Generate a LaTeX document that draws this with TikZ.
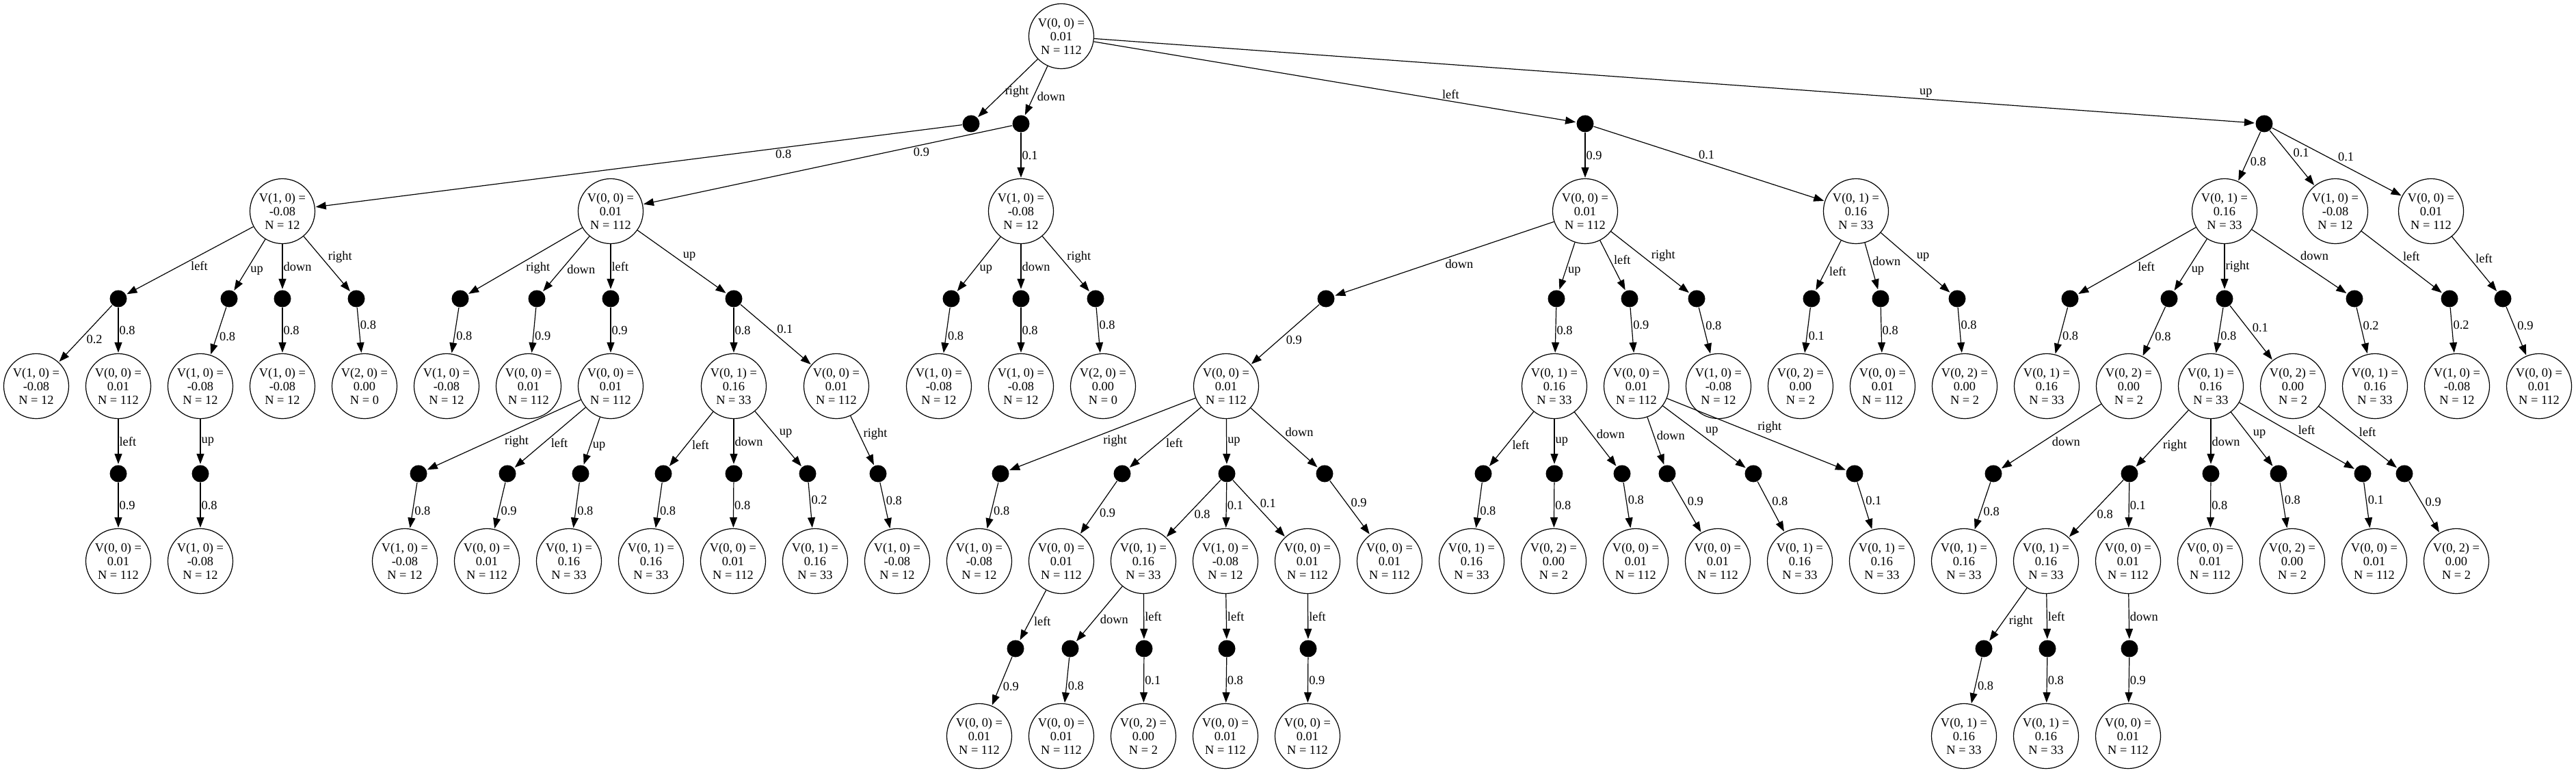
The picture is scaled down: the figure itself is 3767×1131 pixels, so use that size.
\documentclass[tikz,border=0pt]{standalone}
\usepackage{fontspec}
\setmainfont{Liberation Serif}
\usetikzlibrary{arrows.meta}

\begin{document}
\begin{tikzpicture}[x=1pt, y=-1pt, >={Triangle[length=15pt, width=11pt]}, shorten >=1pt, auto, line width=1.2pt,
    font=\fontsize{18.4}{20}\selectfont,
    vstate/.style={circle, draw, minimum size=95pt, inner sep=0pt, align=center},
    chance/.style={circle, fill, minimum size=25pt, inner sep=0pt}]
    \useasboundingbox (0,0) rectangle (3767,1131);

    % root and first moves
    \node[vstate] (s0) at (1552,53) {V(0, 0) =\\0.01\\N = 112};
    \node[chance] (d1) at (1420,181) {};
    \node[chance] (d2) at (1493,181) {};
    \node[chance] (d3) at (2318,181) {};
    \node[chance] (d4) at (3311,181) {};

    % level 2
    \node[vstate] (s1) at (413,309) {V(1, 0) =\\-0.08\\N = 12};
    \node[vstate] (s2) at (893,309) {V(0, 0) =\\0.01\\N = 112};
    \node[vstate] (s3) at (1493,309) {V(1, 0) =\\-0.08\\N = 12};
    \node[vstate] (s4) at (2318,309) {V(0, 0) =\\0.01\\N = 112};
    \node[vstate] (s5) at (2714,309) {V(0, 1) =\\0.16\\N = 33};
    \node[vstate] (s6) at (3253,309) {V(0, 1) =\\0.16\\N = 33};
    \node[vstate] (s7) at (3415,309) {V(1, 0) =\\-0.08\\N = 12};
    \node[vstate] (s8) at (3555,309) {V(0, 0) =\\0.01\\N = 112};

    \node[chance] (d5) at (173,437) {};
    \node[chance] (d6) at (335,437) {};
    \node[chance] (d7) at (413,437) {};
    \node[chance] (d8) at (521,437) {};
    \node[chance] (d9) at (673,437) {};
    \node[chance] (d10) at (785,437) {};
    \node[chance] (d11) at (893,437) {};
    \node[chance] (d12) at (1073,437) {};
    \node[chance] (d13) at (1391,437) {};
    \node[chance] (d14) at (1493,437) {};
    \node[chance] (d15) at (1602,437) {};
    \node[chance] (d16) at (1939,437) {};
    \node[chance] (d17) at (2276,437) {};
    \node[chance] (d18) at (2383,437) {};
    \node[chance] (d19) at (2481,437) {};
    \node[chance] (d20) at (2649,437) {};
    \node[chance] (d21) at (2750,437) {};
    \node[chance] (d22) at (2862,437) {};
    \node[chance] (d23) at (3027,437) {};
    \node[chance] (d24) at (3172,437) {};
    \node[chance] (d25) at (3253,437) {};
    \node[chance] (d26) at (3443,437) {};
    \node[chance] (d27) at (3582,437) {};
    \node[chance] (d28) at (3660,437) {};

    % level 4
    \node[vstate] (s9) at (53,565) {V(1, 0) =\\-0.08\\N = 12};
    \node[vstate] (s10) at (173,565) {V(0, 0) =\\0.01\\N = 112};
    \node[vstate] (s11) at (293,565) {V(1, 0) =\\-0.08\\N = 12};
    \node[vstate] (s12) at (413,565) {V(1, 0) =\\-0.08\\N = 12};
    \node[vstate] (s13) at (533,565) {V(2, 0) =\\0.00\\N = 0};
    \node[vstate] (s14) at (653,565) {V(1, 0) =\\-0.08\\N = 12};
    \node[vstate] (s15) at (773,565) {V(0, 0) =\\0.01\\N = 112};
    \node[vstate] (s16) at (893,565) {V(0, 0) =\\0.01\\N = 112};
    \node[vstate] (s17) at (1073,565) {V(0, 1) =\\0.16\\N = 33};
    \node[vstate] (s18) at (1223,565) {V(0, 0) =\\0.01\\N = 112};
    \node[vstate] (s19) at (1373,565) {V(1, 0) =\\-0.08\\N = 12};
    \node[vstate] (s20) at (1493,565) {V(1, 0) =\\-0.08\\N = 12};
    \node[vstate] (s21) at (1613,565) {V(2, 0) =\\0.00\\N = 0};
    \node[vstate] (s22) at (1793,565) {V(0, 0) =\\0.01\\N = 112};
    \node[vstate] (s23) at (2273,565) {V(0, 1) =\\0.16\\N = 33};
    \node[vstate] (s24) at (2393,565) {V(0, 0) =\\0.01\\N = 112};
    \node[vstate] (s25) at (2513,565) {V(1, 0) =\\-0.08\\N = 12};
    \node[vstate] (s26) at (2633,565) {V(0, 2) =\\0.00\\N = 2};
    \node[vstate] (s27) at (2753,565) {V(0, 0) =\\0.01\\N = 112};
    \node[vstate] (s28) at (2873,565) {V(0, 2) =\\0.00\\N = 2};
    \node[vstate] (s29) at (2993,565) {V(0, 1) =\\0.16\\N = 33};
    \node[vstate] (s30) at (3113,565) {V(0, 2) =\\0.00\\N = 2};
    \node[vstate] (s31) at (3233,565) {V(0, 1) =\\0.16\\N = 33};
    \node[vstate] (s32) at (3353,565) {V(0, 2) =\\0.00\\N = 2};
    \node[vstate] (s33) at (3473,565) {V(0, 1) =\\0.16\\N = 33};
    \node[vstate] (s34) at (3593,565) {V(1, 0) =\\-0.08\\N = 12};
    \node[vstate] (s35) at (3713,565) {V(0, 0) =\\0.01\\N = 112};

    \node[chance] (d29) at (173,693) {};
    \node[chance] (d30) at (293,693) {};
    \node[chance] (d31) at (612,693) {};
    \node[chance] (d32) at (742,693) {};
    \node[chance] (d33) at (849,693) {};
    \node[chance] (d34) at (970,693) {};
    \node[chance] (d35) at (1073,693) {};
    \node[chance] (d36) at (1181,693) {};
    \node[chance] (d37) at (1284,693) {};
    \node[chance] (d38) at (1463,693) {};
    \node[chance] (d39) at (1641,693) {};
    \node[chance] (d40) at (1794,693) {};
    \node[chance] (d41) at (1937,693) {};
    \node[chance] (d42) at (2169,693) {};
    \node[chance] (d43) at (2273,693) {};
    \node[chance] (d44) at (2372,693) {};
    \node[chance] (d45) at (2438,693) {};
    \node[chance] (d46) at (2564,693) {};
    \node[chance] (d47) at (2712,693) {};
    \node[chance] (d48) at (2915,693) {};
    \node[chance] (d49) at (3114,693) {};
    \node[chance] (d50) at (3233,693) {};
    \node[chance] (d51) at (3332,693) {};
    \node[chance] (d52) at (3455,693) {};
    \node[chance] (d53) at (3516,693) {};

    % level 6
    \node[vstate] (s36) at (173,821) {V(0, 0) =\\0.01\\N = 112};
    \node[vstate] (s37) at (293,821) {V(1, 0) =\\-0.08\\N = 12};
    \node[vstate] (s38) at (592,821) {V(1, 0) =\\-0.08\\N = 12};
    \node[vstate] (s39) at (712,821) {V(0, 0) =\\0.01\\N = 112};
    \node[vstate] (s40) at (832,821) {V(0, 1) =\\0.16\\N = 33};
    \node[vstate] (s41) at (952,821) {V(0, 1) =\\0.16\\N = 33};
    \node[vstate] (s42) at (1072,821) {V(0, 0) =\\0.01\\N = 112};
    \node[vstate] (s43) at (1192,821) {V(0, 1) =\\0.16\\N = 33};
    \node[vstate] (s44) at (1312,821) {V(1, 0) =\\-0.08\\N = 12};
    \node[vstate] (s45) at (1432,821) {V(1, 0) =\\-0.08\\N = 12};
    \node[vstate] (s46) at (1552,821) {V(0, 0) =\\0.01\\N = 112};
    \node[vstate] (s47) at (1672,821) {V(0, 1) =\\0.16\\N = 33};
    \node[vstate] (s48) at (1792,821) {V(1, 0) =\\-0.08\\N = 12};
    \node[vstate] (s49) at (1912,821) {V(0, 0) =\\0.01\\N = 112};
    \node[vstate] (s50) at (2032,821) {V(0, 0) =\\0.01\\N = 112};
    \node[vstate] (s51) at (2152,821) {V(0, 1) =\\0.16\\N = 33};
    \node[vstate] (s52) at (2272,821) {V(0, 2) =\\0.00\\N = 2};
    \node[vstate] (s53) at (2392,821) {V(0, 0) =\\0.01\\N = 112};
    \node[vstate] (s54) at (2512,821) {V(0, 0) =\\0.01\\N = 112};
    \node[vstate] (s55) at (2632,821) {V(0, 1) =\\0.16\\N = 33};
    \node[vstate] (s56) at (2752,821) {V(0, 1) =\\0.16\\N = 33};
    \node[vstate] (s57) at (2872,821) {V(0, 1) =\\0.16\\N = 33};
    \node[vstate] (s58) at (2992,821) {V(0, 1) =\\0.16\\N = 33};
    \node[vstate] (s59) at (3112,821) {V(0, 0) =\\0.01\\N = 112};
    \node[vstate] (s60) at (3232,821) {V(0, 0) =\\0.01\\N = 112};
    \node[vstate] (s61) at (3352,821) {V(0, 2) =\\0.00\\N = 2};
    \node[vstate] (s62) at (3472,821) {V(0, 0) =\\0.01\\N = 112};
    \node[vstate] (s63) at (3592,821) {V(0, 2) =\\0.00\\N = 2};

    \node[chance] (d54) at (1485,949) {};
    \node[chance] (d55) at (1565,949) {};
    \node[chance] (d56) at (1673,949) {};
    \node[chance] (d57) at (1794,949) {};
    \node[chance] (d58) at (1913,949) {};
    \node[chance] (d59) at (2901,949) {};
    \node[chance] (d60) at (2994,949) {};
    \node[chance] (d61) at (3114,949) {};

    % level 8
    \node[vstate] (s64) at (1432,1077) {V(0, 0) =\\0.01\\N = 112};
    \node[vstate] (s65) at (1552,1077) {V(0, 0) =\\0.01\\N = 112};
    \node[vstate] (s66) at (1672,1077) {V(0, 2) =\\0.00\\N = 2};
    \node[vstate] (s67) at (1792,1077) {V(0, 0) =\\0.01\\N = 112};
    \node[vstate] (s68) at (1912,1077) {V(0, 0) =\\0.01\\N = 112};
    \node[vstate] (s69) at (2872,1077) {V(0, 1) =\\0.16\\N = 33};
    \node[vstate] (s70) at (2992,1077) {V(0, 1) =\\0.16\\N = 33};
    \node[vstate] (s71) at (3112,1077) {V(0, 0) =\\0.01\\N = 112};

    \path[->, every node/.style={inner sep=1pt}]
    (s0) edge node[pos=0.56, anchor=west] {right} (d1)
    (s0) edge node {down} (d2)
    (s0) edge node[pos=0.72] {left} (d3)
    (s0) edge node[pos=0.71] {up} (d4)
    (d1) edge node[pos=0.29] {0.8} (s1)
    (d2) edge node[pos=0.27] {0.9} (s2)
    (d2) edge node {0.1} (s3)
    (d3) edge node {0.9} (s4)
    (d3) edge node[pos=0.45] {0.1} (s5)
    (d4) edge node {0.8} (s6)
    (d4) edge node {0.1} (s7)
    (d4) edge node {0.1} (s8)
    % right of root
    (s1) edge node {left} (d5)
    (s1) edge node {up} (d6)
    (s1) edge node {down} (d7)
    (s1) edge node {right} (d8)
    (d5) edge node {0.2} (s9)
    (d5) edge node {0.8} (s10)
    (d6) edge node {0.8} (s11)
    (d7) edge node {0.8} (s12)
    (d8) edge node {0.8} (s13)
    (s10) edge node {left} (d29)
    (d29) edge node {0.9} (s36)
    (s11) edge node {up} (d30)
    (d30) edge node {0.8} (s37)
    % down of root
    (s2) edge node {right} (d9)
    (s2) edge node {down} (d10)
    (s2) edge node {left} (d11)
    (s2) edge node {up} (d12)
    (d9) edge node {0.8} (s14)
    (d10) edge node {0.9} (s15)
    (d11) edge node {0.9} (s16)
    (d12) edge node {0.8} (s17)
    (d12) edge node {0.1} (s18)
    (s16) edge node {right} (d31)
    (s16) edge node {left} (d32)
    (s16) edge node {up} (d33)
    (d31) edge node {0.8} (s38)
    (d32) edge node {0.9} (s39)
    (d33) edge node {0.8} (s40)
    (s17) edge node {left} (d34)
    (s17) edge node {down} (d35)
    (s17) edge node {up} (d36)
    (d34) edge node {0.8} (s41)
    (d35) edge node {0.8} (s42)
    (d36) edge node {0.2} (s43)
    (s18) edge node {right} (d37)
    (d37) edge node {0.8} (s44)
    (s3) edge node {up} (d13)
    (s3) edge node {down} (d14)
    (s3) edge node {right} (d15)
    (d13) edge node {0.8} (s19)
    (d14) edge node {0.8} (s20)
    (d15) edge node {0.8} (s21)
    % left of root
    (s4) edge node {down} (d16)
    (s4) edge node {up} (d17)
    (s4) edge node {left} (d18)
    (s4) edge node {right} (d19)
    (d16) edge node {0.9} (s22)
    (d17) edge node {0.8} (s23)
    (d18) edge node {0.9} (s24)
    (d19) edge node {0.8} (s25)
    (s22) edge node {right} (d38)
    (s22) edge node {left} (d39)
    (s22) edge node {up} (d40)
    (s22) edge node {down} (d41)
    (d38) edge node {0.8} (s45)
    (d39) edge node {0.9} (s46)
    (d40) edge node {0.8} (s47)
    (d40) edge node {0.1} (s48)
    (d40) edge node {0.1} (s49)
    (d41) edge node {0.9} (s50)
    (s46) edge node {left} (d54)
    (d54) edge node {0.9} (s64)
    (s47) edge node {down} (d55)
    (s47) edge node {left} (d56)
    (d55) edge node {0.8} (s65)
    (d56) edge node {0.1} (s66)
    (s48) edge node {left} (d57)
    (d57) edge node {0.8} (s67)
    (s49) edge node {left} (d58)
    (d58) edge node {0.9} (s68)
    (s23) edge node {left} (d42)
    (s23) edge node {up} (d43)
    (s23) edge node {down} (d44)
    (d42) edge node {0.8} (s51)
    (d43) edge node {0.8} (s52)
    (d44) edge node {0.8} (s53)
    (s24) edge node {down} (d45)
    (s24) edge node {up} (d46)
    (s24) edge node {right} (d47)
    (d45) edge node {0.9} (s54)
    (d46) edge node {0.8} (s55)
    (d47) edge node {0.1} (s56)
    (s5) edge node {left} (d20)
    (s5) edge node {down} (d21)
    (s5) edge node {up} (d22)
    (d20) edge node {0.1} (s26)
    (d21) edge node {0.8} (s27)
    (d22) edge node {0.8} (s28)
    % up of root
    (s6) edge node {left} (d23)
    (s6) edge node {up} (d24)
    (s6) edge node {right} (d25)
    (s6) edge node {down} (d26)
    (d23) edge node {0.8} (s29)
    (d24) edge node {0.8} (s30)
    (d25) edge node {0.8} (s31)
    (d25) edge node {0.1} (s32)
    (d26) edge node {0.2} (s33)
    (s30) edge node {down} (d48)
    (d48) edge node {0.8} (s57)
    (s31) edge node {right} (d49)
    (s31) edge node {down} (d50)
    (s31) edge node {up} (d51)
    (s31) edge node {left} (d52)
    (d49) edge node {0.8} (s58)
    (d49) edge node {0.1} (s59)
    (d50) edge node {0.8} (s60)
    (d51) edge node {0.8} (s61)
    (d52) edge node {0.1} (s62)
    (s58) edge node {right} (d59)
    (s58) edge node {left} (d60)
    (d59) edge node {0.8} (s69)
    (d60) edge node {0.8} (s70)
    (s59) edge node {down} (d61)
    (d61) edge node {0.9} (s71)
    (s32) edge node {left} (d53)
    (d53) edge node {0.9} (s63)
    (s7) edge node {left} (d27)
    (d27) edge node {0.2} (s34)
    (s8) edge node {left} (d28)
    (d28) edge node {0.9} (s35);
\end{tikzpicture}
\end{document}
